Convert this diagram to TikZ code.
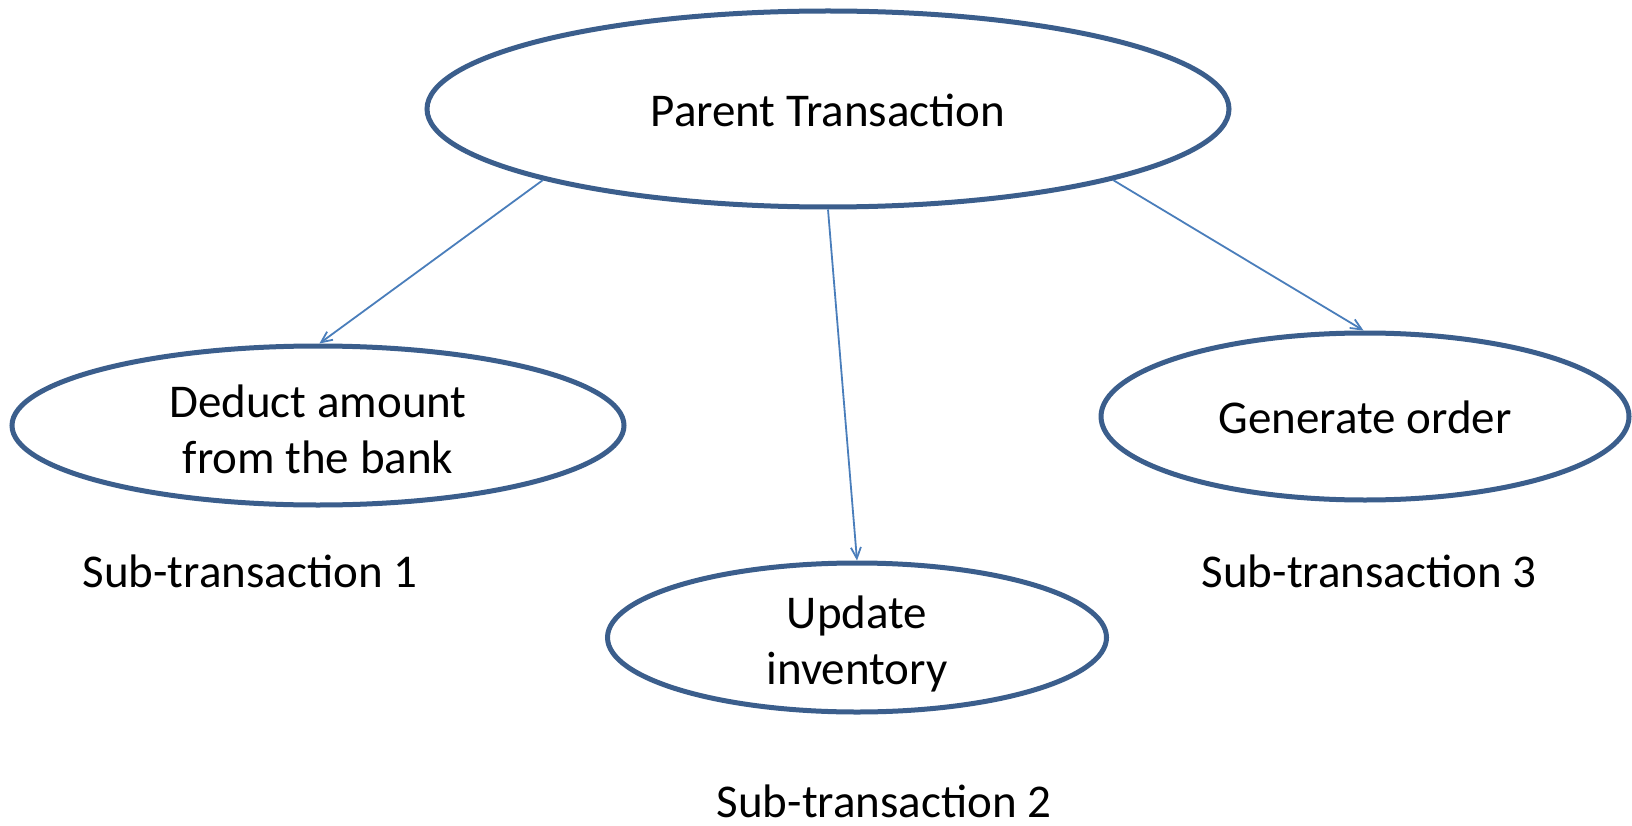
\documentclass[tikz,border=0pt]{standalone}
\usepackage{fontspec}
\setmainfont{Carlito}
\usetikzlibrary{shapes.geometric,arrows.meta}
\definecolor{ovalblue}{HTML}{3B5E8C}
\definecolor{linkblue}{HTML}{4A7EBB}
\begin{document}
\begin{tikzpicture}[x=1pt,y=-1pt,
  oval/.style={ellipse, draw=ovalblue, line width=5pt, inner sep=0pt,
    align=center, font=\fontsize{47}{56}\selectfont},
  link/.style={draw=linkblue, line width=1.8pt,
    -{Straight Barb[length=11pt,width=10pt]}},
  caption/.style={anchor=base, inner sep=0pt, font=\fontsize{47}{56}\selectfont}]
\useasboundingbox[fill=white] (0,0) rectangle (1632,826);

% transactions
\node[oval, minimum width=802pt, minimum height=196pt,
      text height=36pt, text depth=0pt] (parent) at (828,109) {Parent Transaction};
\node[oval, minimum width=612pt, minimum height=159pt,
      text height=95pt, text depth=0pt] (deduct) at (318,425.5)
      {Deduct amount\\from the bank};
\node[oval, minimum width=528pt, minimum height=167pt,
      text height=33pt, text depth=0pt] (generate) at (1365,416.5) {Generate order};
\node[oval, minimum width=499pt, minimum height=149pt,
      text height=94pt, text depth=0pt] (update) at (857,637.5)
      {Update\\inventory};

% captions
\node[caption] (sub1) at (250,587) {Sub-transaction 1};
\node[caption] (sub2) at (884,817) {Sub-transaction 2};
\node[caption] (sub3) at (1369,587) {Sub-transaction 3};

% links from the parent to each sub-transaction
\draw[link] (parent.194) -- (deduct.89);
\draw[link] (parent.-90) -- (update.90);
\draw[link] (parent.-14) -- (generate.91);
\end{tikzpicture}
\end{document}
